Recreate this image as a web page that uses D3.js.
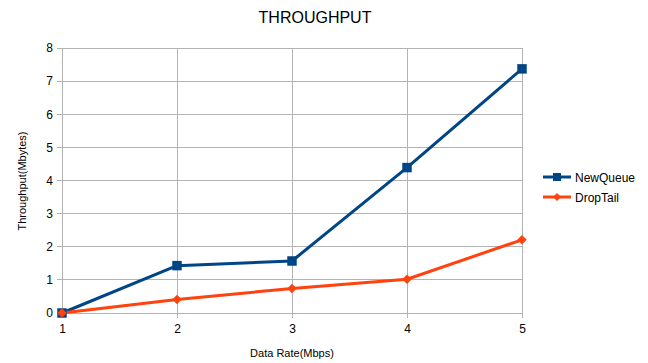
<!DOCTYPE html>
<html><head><meta charset="utf-8">
<script src="https://cdn.jsdelivr.net/npm/d3@7"></script>
<style>body{margin:0;background:#fff}svg{display:block}text{font-family:"Liberation Sans",Arial,sans-serif;fill:#000}</style>
</head><body>
<script>
const categories = [1, 2, 3, 4, 5];
const newQueue = [0, 1.43, 1.57, 4.39, 7.37];
const dropTail = [0, 0.41, 0.74, 1.02, 2.21];
const yTicks = [0, 1, 2, 3, 4, 5, 6, 7, 8];
const seriesNames = ["NewQueue", "DropTail"];

const W = 648, H = 363;
const svg = d3.select("body").append("svg").attr("width", W).attr("height", H);
const x = d3.scaleLinear().domain([1, 5]).range([62, 522]);
const y = d3.scaleLinear().domain([0, 8]).range([313, 48]);
const grid = "#b3b3b3";

// gridlines
svg.append("g").selectAll("line").data(yTicks).join("line")
  .attr("x1", 57).attr("x2", 522).attr("y1", d => y(d)).attr("y2", d => y(d))
  .attr("stroke", grid).attr("stroke-width", 1).attr("shape-rendering", "crispEdges");
svg.append("g").selectAll("line").data(categories).join("line")
  .attr("x1", d => x(d)).attr("x2", d => x(d)).attr("y1", 48).attr("y2", 318)
  .attr("stroke", grid).attr("stroke-width", 1).attr("shape-rendering", "crispEdges");

// axes labels
const yAxis = d3.axisLeft(y).tickValues(yTicks).tickSize(0).tickPadding(9);
const gy = svg.append("g").attr("transform", "translate(62,0)").call(yAxis);
gy.select(".domain").remove();
gy.selectAll("text").attr("font-size", 12).style("font-family", '"Liberation Sans",Arial,sans-serif').attr("fill", "#000");
const xAxis = d3.axisBottom(x).tickValues(categories).tickFormat(d3.format("d")).tickSize(0).tickPadding(11);
const gx = svg.append("g").attr("transform", "translate(0,313)").call(xAxis);
gx.select(".domain").remove();
gx.selectAll("text").attr("font-size", 12).style("font-family", '"Liberation Sans",Arial,sans-serif').attr("fill", "#000");

// title
svg.append("text").attr("x", 315).attr("y", 23).attr("text-anchor", "middle").attr("font-size", 16).text("THROUGHPUT");
svg.append("text").attr("x", 292).attr("y", 357).attr("text-anchor", "middle").attr("font-size", 11).text("Data Rate(Mbps)");
svg.append("text").attr("transform", "translate(26,181) rotate(-90)").attr("text-anchor", "middle").attr("font-size", 11).text("Throughput(Mbytes)");

const colors = ["#004586", "#ff420e"];
const data = [newQueue, dropTail];
const line = d3.line().x((d, i) => x(categories[i])).y(d => y(d));
data.forEach((vals, k) => {
  svg.append("path").datum(vals).attr("d", line).attr("fill", "none")
    .attr("stroke", colors[k]).attr("stroke-width", 3).attr("stroke-linejoin", "round");
});
// markers
const sq = d3.symbol().type(d3.symbolSquare).size(90);
const dia = d3.symbol().type(d3.symbolSquare).size(45);
data.forEach((vals, k) => {
  svg.append("g").selectAll("path").data(vals).join("path")
    .attr("transform", (d, i) => `translate(${x(categories[i])},${y(d)})` + (k === 1 ? " rotate(45)" : ""))
    .attr("d", k === 0 ? sq() : dia()).attr("fill", colors[k]);
});

// legend
seriesNames.forEach((n, k) => {
  const ly = 177 + k * 20;
  svg.append("line").attr("x1", 543).attr("x2", 571).attr("y1", ly).attr("y2", ly).attr("stroke", colors[k]).attr("stroke-width", 3);
  svg.append("path").attr("transform", `translate(557,${ly})` + (k === 1 ? " rotate(45)" : ""))
    .attr("d", k === 0 ? d3.symbol().type(d3.symbolSquare).size(64)() : d3.symbol().type(d3.symbolSquare).size(32)()).attr("fill", colors[k]);
  svg.append("text").attr("x", 575).attr("y", ly + 4.5).attr("font-size", 12).text(n);
});
</script>
</body></html>
